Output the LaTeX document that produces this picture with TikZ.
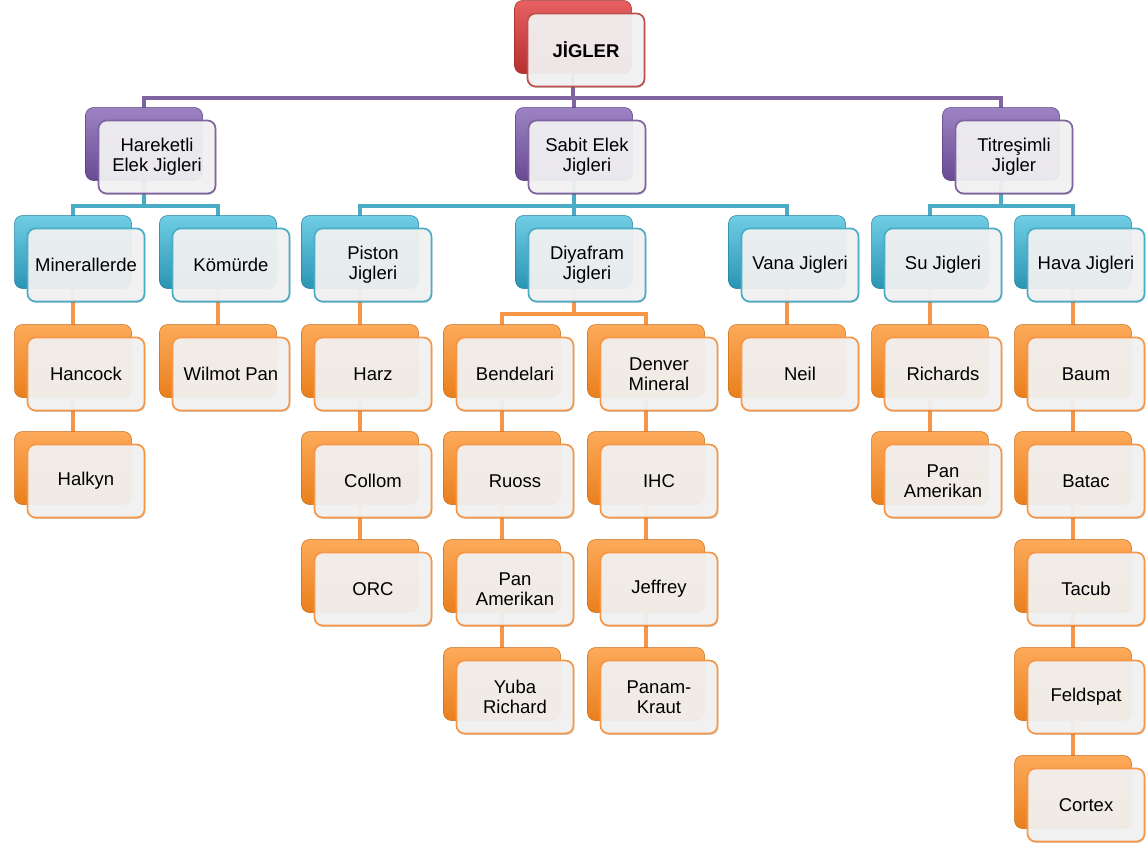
\documentclass[tikz,border=0pt]{standalone}
\usepackage{fontspec}
\setmainfont{Liberation Sans}
\usetikzlibrary{shadows}
\definecolor{redtop}{HTML}{E86062}
\definecolor{redbot}{HTML}{B5302E}
\definecolor{redline}{HTML}{C0504D}
\definecolor{purtop}{HTML}{9D83C4}
\definecolor{purbot}{HTML}{684A92}
\definecolor{purline}{HTML}{8064A2}
\definecolor{teatop}{HTML}{6FCDE4}
\definecolor{teabot}{HTML}{2A94B4}
\definecolor{tealine}{HTML}{4BACC6}
\definecolor{oratop}{HTML}{FDAA5A}
\definecolor{orabot}{HTML}{E97F1C}
\definecolor{oraline}{HTML}{F79646}
\definecolor{frontfill}{HTML}{F5F5F5}
\tikzset{
  backbox/.style={rounded corners=8pt, minimum width=117pt, minimum height=73pt,
    inner sep=0pt, outer sep=0pt, top color=#1top, bottom color=#1bot,
    draw=#1bot!85!black, line width=0.5pt},
  frontbox/.style={rounded corners=8pt, minimum width=117pt, minimum height=73pt,
    inner sep=2pt, outer sep=0pt, fill=frontfill, fill opacity=0.93, text opacity=1,
    draw=#1line, line width=1.7pt, align=center,
    font=\fontsize{18.5}{20}\selectfont,
    drop shadow={shadow xshift=0.8pt, shadow yshift=-1.4pt, opacity=0.2, fill=black}},
  conn/.style={draw=#1line, line width=3.6pt},
  ph/.style={minimum width=117pt, minimum height=73pt, inner sep=0pt, outer sep=0pt},
}
\newcommand{\jbox}[5]{%
  \node[backbox=#4] (b#1) at (#2-13,#3-13) {};
  \node[frontbox=#4] (#1) at (#2,#3) {#5};
}
\newcommand{\ph}[3]{\node[ph] (b#1) at (#2-13,#3-13) {};}
\begin{document}
\begin{tikzpicture}[x=1pt,y=-1pt]
\useasboundingbox (0,0) rectangle (1147,847);
\coordinate (busA) at (0,98);
\coordinate (busB) at (0,206);
\coordinate (busC) at (0,314);
% anchor nodes with the geometry of the back boxes, used by the connectors
\ph{root}{586}{50}
\ph{har}{157}{157}\ph{sab}{587}{157}\ph{tit}{1014}{157}
\ph{min}{86}{265}\ph{kom}{231}{265}\ph{pis}{373}{265}\ph{diy}{587}{265}
\ph{van}{800}{265}\ph{su}{943}{265}\ph{hav}{1086}{265}
\ph{hanc}{86}{374}\ph{halk}{86}{481}
\ph{wil}{231}{374}
\ph{harz}{373}{374}\ph{coll}{373}{481}\ph{orc}{373}{589}
\ph{bend}{515}{374}\ph{ruo}{515}{481}\ph{pana}{515}{589}\ph{yuba}{515}{697}
\ph{den}{659}{374}\ph{ihc}{659}{481}\ph{jef}{659}{589}\ph{pank}{659}{697}
\ph{neil}{800}{374}
\ph{rich}{943}{374}\ph{panb}{943}{481}
\ph{baum}{1086}{374}\ph{bat}{1086}{481}\ph{tac}{1086}{589}\ph{fel}{1086}{697}\ph{cor}{1086}{805}
% ---- connectors
\foreach \c in {har,sab,tit}
  \draw[conn=pur] (broot.south) -- (broot.south |- busA) -| (b\c.north);
\foreach \c in {min,kom}
  \draw[conn=tea] (bhar.south) -- (bhar.south |- busB) -| (b\c.north);
\foreach \c in {pis,diy,van}
  \draw[conn=tea] (bsab.south) -- (bsab.south |- busB) -| (b\c.north);
\foreach \c in {su,hav}
  \draw[conn=tea] (btit.south) -- (btit.south |- busB) -| (b\c.north);
\foreach \c in {bend,den}
  \draw[conn=ora] (bdiy.south) -- (bdiy.south |- busC) -| (b\c.north);
\foreach \p/\c in {min/hanc,hanc/halk,kom/wil,pis/harz,harz/coll,coll/orc,
  bend/ruo,ruo/pana,pana/yuba,den/ihc,ihc/jef,jef/pank,van/neil,su/rich,rich/panb,
  hav/baum,baum/bat,bat/tac,tac/fel,fel/cor}
  \draw[conn=ora] (b\p.south) -- (b\c.north);
% ---- boxes
\jbox{root}{586}{50}{red}{\textbf{JİGLER}}
\jbox{har}{157}{157}{pur}{Hareketli\\Elek Jigleri}
\jbox{sab}{587}{157}{pur}{Sabit Elek\\Jigleri}
\jbox{tit}{1014}{157}{pur}{Titreşimli\\Jigler}
\jbox{min}{86}{265}{tea}{Minerallerde}
\jbox{kom}{231}{265}{tea}{Kömürde}
\jbox{pis}{373}{265}{tea}{Piston\\Jigleri}
\jbox{diy}{587}{265}{tea}{Diyafram\\Jigleri}
\jbox{van}{800}{265}{tea}{Vana Jigleri}
\jbox{su}{943}{265}{tea}{Su Jigleri}
\jbox{hav}{1086}{265}{tea}{Hava Jigleri}
\jbox{hanc}{86}{374}{ora}{Hancock}
\jbox{halk}{86}{481}{ora}{Halkyn}
\jbox{wil}{231}{374}{ora}{Wilmot Pan}
\jbox{harz}{373}{374}{ora}{Harz}
\jbox{coll}{373}{481}{ora}{Collom}
\jbox{orc}{373}{589}{ora}{ORC}
\jbox{bend}{515}{374}{ora}{Bendelari}
\jbox{ruo}{515}{481}{ora}{Ruoss}
\jbox{pana}{515}{589}{ora}{Pan\\Amerikan}
\jbox{yuba}{515}{697}{ora}{Yuba\\Richard}
\jbox{den}{659}{374}{ora}{Denver\\Mineral}
\jbox{ihc}{659}{481}{ora}{IHC}
\jbox{jef}{659}{589}{ora}{Jeffrey}
\jbox{pank}{659}{697}{ora}{Panam-\\Kraut}
\jbox{neil}{800}{374}{ora}{Neil}
\jbox{rich}{943}{374}{ora}{Richards}
\jbox{panb}{943}{481}{ora}{Pan\\Amerikan}
\jbox{baum}{1086}{374}{ora}{Baum}
\jbox{bat}{1086}{481}{ora}{Batac}
\jbox{tac}{1086}{589}{ora}{Tacub}
\jbox{fel}{1086}{697}{ora}{Feldspat}
\jbox{cor}{1086}{805}{ora}{Cortex}
\end{tikzpicture}
\end{document}
